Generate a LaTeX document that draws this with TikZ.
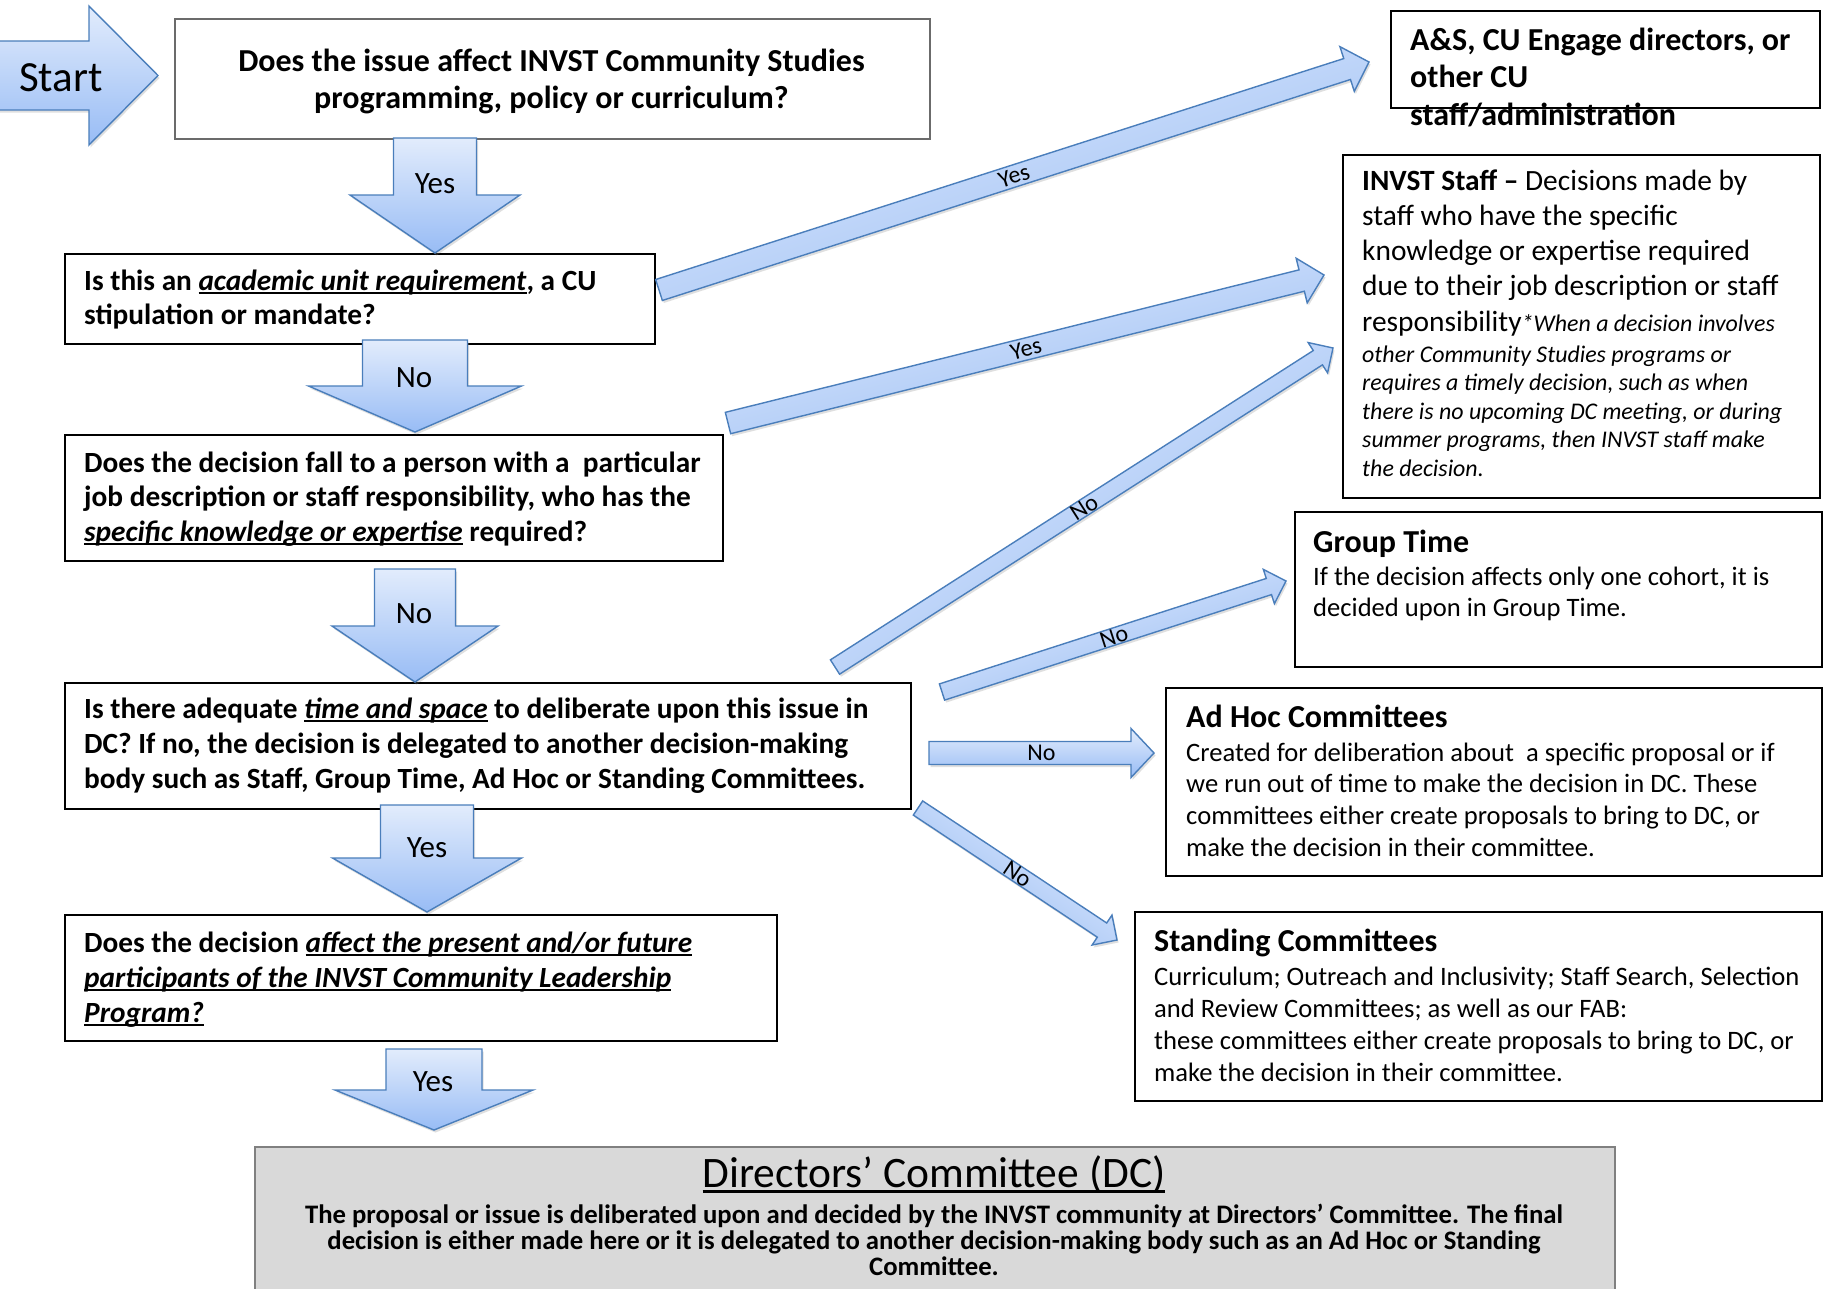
\documentclass[tikz,border=0pt]{standalone}
\usepackage{fontspec}
\setmainfont{Carlito}
\usetikzlibrary{calc,shadows}
\definecolor{ablue}{RGB}{74,126,187}
\definecolor{atop}{RGB}{226,236,252}
\definecolor{abot}{RGB}{152,188,245}
\newcommand{\mylines}[3]{{\fontsize{#1}{#2}\selectfont\begin{tabular}[t]{@{}l@{}}#3\end{tabular}}}
\newcommand{\mylinesc}[3]{{\fontsize{#1}{#2}\selectfont\begin{tabular}[t]{@{}c@{}}#3\end{tabular}}}
\newcommand{\myul}[1]{\setbox0\hbox{#1}\rlap{\rule[-0.13em]{\wd0}{0.06em}}\box0\relax}
\newcommand{\barrow}[6][]{%
  \path ($(#3)!#6!(#2)$) coordinate (bahb);
  \path[barrowstyle,#1] ($(#2)!#4!-90:(#3)$) -- ($(bahb)!#4!90:(#2)$) -- ($(bahb)!#5!90:(#2)$) -- (#3) -- ($(bahb)!#5!-90:(#2)$) -- ($(bahb)!#4!-90:(#2)$) -- ($(#2)!#4!90:(#3)$) -- cycle;
}
\tikzset{
  box/.style={draw=black, line width=1.8pt, inner sep=0pt, anchor=north west, fill=white},
  gbox/.style={box, draw=black!58},
  dcbox/.style={box, draw=black!50, fill=black!15},
  barrowstyle/.style={draw=ablue, line width=1.4pt, top color=atop, bottom color=abot,
    drop shadow={shadow xshift=1.5pt, shadow yshift=-2.5pt, opacity=0.25}},
  txt/.style={inner sep=0pt, anchor=base west},
  ctxt/.style={inner sep=0pt, anchor=base},
  dlabel/.style={inner sep=0pt, font=\fontsize{24}{28}\selectfont},
  vlabel/.style={inner sep=0pt, anchor=base, font=\fontsize{31}{36}\selectfont},
}
\begin{document}
\begin{tikzpicture}[x=1pt,y=-1pt]
\clip (0,0) rectangle (1825,1288);
\fill[white] (0,0) rectangle (1825,1288);

% ---------- boxes ----------
\node[gbox, minimum width=755pt, minimum height=120pt] (q1) at (174,18) {};
\node[box, minimum width=590pt, minimum height=90pt] (q2) at (64,253) {};
\node[box, minimum width=658pt, minimum height=126pt] (q3) at (64,434) {};
\node[box, minimum width=846pt, minimum height=126pt] (q4) at (64,682) {};
\node[box, minimum width=712pt, minimum height=126pt] (q5) at (64,914) {};
\node[box, minimum width=429pt, minimum height=97pt] (r1) at (1390,10) {};
\node[box, minimum width=477pt, minimum height=343pt] (r2) at (1342,154) {};
\node[box, minimum width=527pt, minimum height=155pt] (r3) at (1294,511) {};
\node[box, minimum width=656pt, minimum height=188pt] (r4) at (1165,687) {};
\node[box, minimum width=687pt, minimum height=189pt] (r5) at (1134,911) {};
\node[dcbox, minimum width=1360pt, minimum height=170pt] (dc) at (254,1146) {};

% ---------- texts ----------
\node[ctxt, font=\bfseries] (t1) at (551.5,71) {\mylinesc{32}{37}{Does the issue affect INVST Community Studies\\ programming, policy or curriculum?}};
\node[txt, font=\bfseries] (t2) at (84,290) {\mylines{29.3}{34}{Is this an \myul{\textit{academic unit requirement}}, a CU\\ stipulation or mandate?}};
\node[txt, font=\bfseries] (t3) at (84,472) {\mylines{29.3}{34.5}{Does the decision fall to a person with a~ particular\\ job description or staff responsibility, who has the\\ \myul{\textit{specific knowledge or expertise}} required?}};
\node[txt, font=\bfseries] (t4) at (84,718) {\mylines{29.3}{35}{Is there adequate \myul{\textit{time and space}} to deliberate upon this issue in\\ DC? If no, the decision is delegated to another decision-making\\ body such as Staff, Group Time, Ad Hoc or Standing Committees.}};
\node[txt, font=\bfseries] (t5) at (84,952) {\mylines{29.3}{35}{Does the decision \myul{\textit{affect the present and/or future}}\\ \myul{\textit{participants of the INVST Community Leadership}}\\ \myul{\textit{Program?}}}};

\node[txt, font=\bfseries] (tr1) at (1410,50) {\mylines{32}{37.5}{A\&S, CU Engage directors, or\\ other CU\\ staff/administration}};
\node[txt] (tr2) at (1362,190) {\mylines{29.4}{35.3}{\textbf{INVST Staff –} Decisions made by\\ staff who have the specific\\ knowledge or expertise required\\ due to their job description or staff\\ responsibility{\fontsize{23.9}{28.5}\selectfont\itshape *When a decision involves}}};
\node[txt, font=\itshape] (tr2b) at (1362,362) {\mylines{23.9}{28.5}{other Community Studies programs or\\ requires a timely decision, such as when\\ there is no upcoming DC meeting, or during\\ summer programs, then INVST staff make\\ the decision.}};

\node[txt, font=\bfseries\fontsize{32}{37}\selectfont] (tr3h) at (1313,552) {Group Time};
\node[txt] (tr3) at (1313,585) {\mylines{26.6}{31.5}{If the decision affects only one cohort, it is\\ decided upon in Group Time.}};
\node[txt, font=\bfseries\fontsize{32}{37}\selectfont] (tr4h) at (1186,727) {Ad Hoc Committees};
\node[txt] (tr4) at (1186,761) {\mylines{26.6}{31.7}{Created for deliberation about~ a specific proposal or if\\ we run out of time to make the decision in DC. These\\ committees either create proposals to bring to DC, or\\ make the decision in their committee.}};
\node[txt, font=\bfseries\fontsize{32}{37}\selectfont] (tr5h) at (1154,951) {Standing Committees};
\node[txt] (tr5) at (1154,985) {\mylines{26.6}{32}{Curriculum; Outreach and Inclusivity; Staff Search, Selection\\ and Review Committees; as well as our FAB:\\ these committees either create proposals to bring to DC, or\\ make the decision in their committee.}};

\node[ctxt, font=\fontsize{43.5}{50}\selectfont] (tdch) at (934,1187) {\myul{Directors’ Committee (DC)}};
\node[ctxt, font=\bfseries] (tdc) at (934,1223) {\mylinesc{26.7}{25.6}{The proposal or issue is deliberated upon and decided by the INVST community at Directors’ Committee. The final\\ decision is either made here or it is delegated to another decision-making body such as an Ad Hoc or Standing\\ Committee.}};

% ---------- arrow end points ----------
\coordinate (s0) at (-4,75.5);   \coordinate (s1) at (158,75.5);
\coordinate (d1s) at (435,138);  \coordinate (d1e) at (435,253);
\coordinate (d2s) at (415,340);  \coordinate (d2e) at (415,432);
\coordinate (d3s) at (415,569);  \coordinate (d3e) at (415,682);
\coordinate (d4s) at (427,805);  \coordinate (d4e) at (427,912);
\coordinate (d5s) at (434,1049); \coordinate (d5e) at (434,1130);
\coordinate (a1s) at (659,290);  \coordinate (a1e) at (1369,62);
\coordinate (a2s) at (728,423);  \coordinate (a2e) at (1324,275);
\coordinate (a3s) at (835,667);  \coordinate (a3e) at (1333,348);
\coordinate (a4s) at (942,692);  \coordinate (a4e) at (1286,581);
\coordinate (a5s) at (929,753);  \coordinate (a5e) at (1154,753);
\coordinate (a6s) at (918,808);  \coordinate (a6e) at (1117,940);

% ---------- block arrows ----------
\barrow{s0}{s1}{34.5pt}{69.5pt}{69pt}
\barrow{d1s}{d1e}{41.5pt}{85pt}{58pt}
\barrow{d2s}{d2e}{52.5pt}{106.5pt}{46pt}
\barrow{d3s}{d3e}{40.5pt}{83pt}{56pt}
\barrow{d4s}{d4e}{46.5pt}{94.5pt}{54pt}
\barrow{d5s}{d5e}{48pt}{99pt}{40pt}
\barrow[shading angle=17.8]{a1s}{a1e}{11pt}{23.5pt}{23pt}
\barrow[shading angle=13.9]{a2s}{a2e}{11pt}{23pt}{23pt}
\barrow[shading angle=32.6]{a3s}{a3e}{8.5pt}{18pt}{18pt}
\barrow[shading angle=17.9]{a4s}{a4e}{8.5pt}{18pt}{18pt}
\barrow{a5s}{a5e}{11.5pt}{24.5pt}{23pt}
\barrow[shading angle=-33.6]{a6s}{a6e}{8.5pt}{18pt}{18pt}

\node[txt, font=\fontsize{43}{50}\selectfont] (st) at (19,91) {Start};

% ---------- arrow labels ----------
\node[vlabel] (l1) at (435,193) {Yes};
\node[vlabel] (l2) at (414,387) {No};
\node[vlabel] (l3) at (414,623) {No};
\node[vlabel] (l4) at (427,857) {Yes};
\node[vlabel] (l5) at (433,1091) {Yes};
\path (a1s) -- node[dlabel, sloped] (m1) {Yes} (a1e);
\path (a2s) -- node[dlabel, sloped] (m2) {Yes} (a2e);
\path (a3s) -- node[dlabel, sloped] (m3) {No} (a3e);
\path (a4s) -- node[dlabel, sloped] (m4) {No} (a4e);
\path (a5s) -- node[dlabel, sloped] (m5) {No} (a5e);
\path (a6s) -- node[dlabel, sloped] (m6) {No} (a6e);
\end{tikzpicture}
\end{document}
